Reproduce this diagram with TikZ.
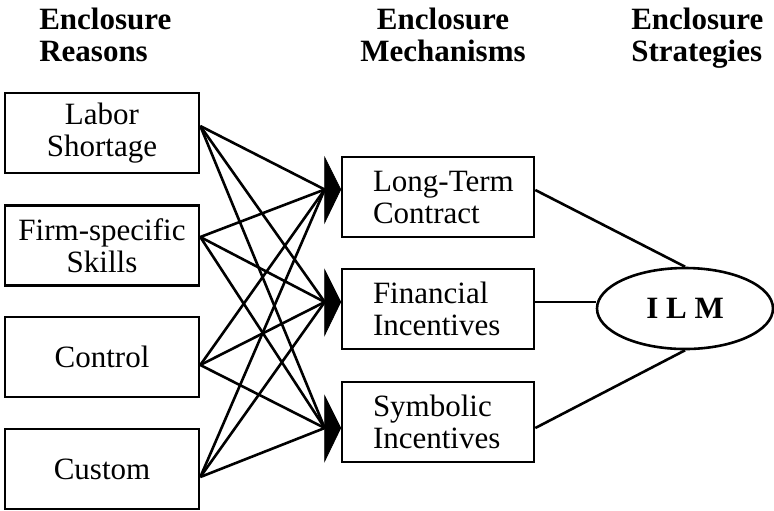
\documentclass[tikz,border=0pt]{standalone}
\usepackage{fontspec}
\setmainfont{Liberation Serif}
\usetikzlibrary{shapes.geometric}

\begin{document}
\begin{tikzpicture}[x=0.5pt, y=-0.5pt, line width=1.3pt,
		every node/.style={font=\fontsize{15.5}{16}\selectfont},
		heading/.style={inner sep=0, font=\fontsize{15.5}{16}\selectfont\bfseries},
		reason/.style={draw, rectangle, minimum width=97pt, minimum height=40pt, inner sep=0, align=center},
		mechanism/.style={draw, rectangle, text width=65pt, inner xsep=15.5pt, inner ysep=0, minimum height=40pt, align=left},
		strategy/.style={draw, ellipse, minimum width=88pt, minimum height=40.5pt, inner sep=0, font=\fontsize{15.5}{16}\selectfont\bfseries}]
		\useasboundingbox (0, 0) rectangle (774, 510);

		% column headings
		\node[heading, anchor=north west, align=left] (hreasons) at (38, 7) {Enclosure\\Reasons};
		\node[heading, anchor=north, align=center] (hmechanisms) at (443, 7) {Enclosure\\Mechanisms};
		\node[heading, anchor=north west, align=left] (hstrategies) at (630, 7) {Enclosure\\Strategies};

		% reasons
		\node[reason] (labor) at (102, 133) {Labor\\Shortage};
		\node[reason] (skills) at (102, 245.5) {Firm-specific\\Skills};
		\node[reason] (control) at (102, 357) {Control};
		\node[reason] (custom) at (102, 469) {Custom};

		% mechanisms
		\node[mechanism] (contract) at (438, 197) {\mbox{Long-Term}\\Contract};
		\node[mechanism] (financial) at (438, 309) {Financial\\Incentives};
		\node[mechanism] (symbolic) at (438, 422) {Symbolic\\Incentives};

		% strategy
		\node[strategy] (ilm) at (685, 308.5) {I L M};

		\coordinate (r1) at ([yshift=3.5pt]labor.east);
		\coordinate (r2) at ([yshift=4.25pt]skills.east);
		\coordinate (r3) at ([yshift=-4pt]control.east);
		\coordinate (r4) at ([yshift=-4pt]custom.east);
		\coordinate (m1) at ([yshift=3.75pt]contract.west);
		\coordinate (m2) at ([yshift=3.5pt]financial.west);
		\coordinate (m3) at ([yshift=-3pt]symbolic.west);
		\coordinate (e1) at ([yshift=3.5pt]contract.east);
		\coordinate (e2) at ([yshift=3.5pt]financial.east);
		\coordinate (e3) at ([yshift=-3pt]symbolic.east);
		\foreach \m in {1, 2, 3} {
			\coordinate (b\m) at ([xshift=-8pt]m\m);
		}

		\foreach \r in {1, ..., 4} {
			\foreach \m in {1, 2, 3} {
				\draw (r\r) -- (b\m);
			}
		}
		\foreach \m in {1, 2, 3} {
			\filldraw[line width=.4pt] (m\m) -- ([yshift=16pt]b\m) -- ([yshift=-16.5pt]b\m) -- cycle;
		}

		\draw (e1) -- (ilm.north);
		\draw (e2) -- (e2 -| ilm.west);
		\draw (e3) -- (ilm.south);
	\end{tikzpicture}
\end{document}
